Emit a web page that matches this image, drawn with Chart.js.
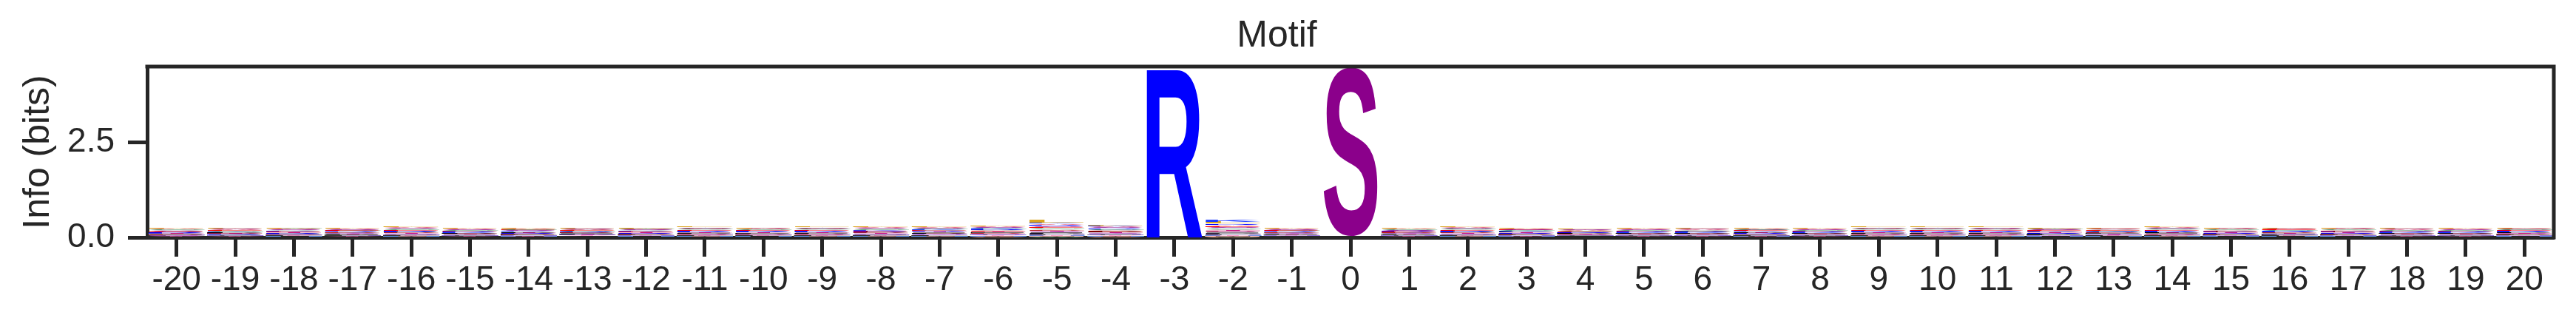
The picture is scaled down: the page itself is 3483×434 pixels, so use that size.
<!DOCTYPE html>
<html>
<head>
<meta charset="utf-8">
<title>Motif</title>
<script src="https://cdn.jsdelivr.net/npm/chart.js@4.4.1/dist/chart.umd.min.js"></script>
<style>
  html, body { margin: 0; padding: 0; background: #fff; }
  canvas { display: block; }
</style>
</head>
<body>
<canvas id="logoChart" width="3483" height="434"></canvas>
<script>
// ==========================================
// Motif logo, heights
// (values in millibits, one array per residue)
// ==========================================

const positions = [
    "-20","-19","-18","-17","-16","-15","-14","-13","-12","-11",
    "-10","-9","-8","-7","-6","-5","-4","-3","-2","-1",
    "0",
    "1","2","3","4","5","6","7","8","9","10",
    "11","12","13","14","15","16","17","18","19","20"
];

const yTicks = [0, 2.5];
const yMax = 4.5;

//            -20 .................................. -1   0   1 .................................. 20
const L = [24,23,22,21,26, 22,23,22,24,25, 22,24,26,27,28, 62,30,0,36,22, 0, 24,26,23,20,22, 23,22,22,25,24, 25,23,22,25,22, 23,23,22,22,23];
const A = [19,17,18,19,21, 18,19,17,18,20, 18,20,21,22,23, 30,24,0,30,18, 0, 18,21,19,16,18, 17,19,18,20,20, 19,18,19,20,18, 19,18,17,18,19];
const S = [16,18,17,18,19, 17,16,18,17,19, 18,19,20,20,22, 28,23,0,27,17, 4500, 17,20,17,16,17, 18,17,17,19,19, 20,17,18,19,18, 17,18,17,17,18];
const G = [17,16,18,16,18, 16,17,16,17,18, 17,18,18,19,20, 26,21,0,26,16, 0, 17,19,16,15,16, 16,17,16,18,18, 18,17,16,18,17, 16,17,16,16,17];
const E = [15,16,15,17,17, 15,16,16,15,17, 16,17,17,18,19, 26,20,0,27,16, 0, 15,18,16,14,15, 15,16,15,17,17, 17,16,16,17,16, 16,16,15,15,16];
const V = [16,15,16,15,18, 15,15,16,16,17, 15,17,18,18,19, 24,20,0,25,15, 0, 16,18,15,14,15, 16,15,15,17,17, 17,15,16,17,16, 15,16,15,15,15];
const K = [13,14,15,14,16, 14,15,14,15,16, 15,16,17,18,21, 34,25,0,38,14, 0, 14,17,15,13,14, 14,15,14,16,16, 16,15,15,16,15, 15,15,14,14,15];
const R = [14,13,14,15,16, 14,14,15,14,16, 15,16,16,17,19, 28,22,4500,34,15, 0, 15,17,14,13,14, 14,14,14,16,16, 16,14,15,16,14, 15,14,14,14,15];
const T = [13,13,14,13,15, 13,14,13,14,15, 14,15,15,16,17, 22,17,0,22,13, 0, 13,15,14,12,13, 13,14,13,15,15, 15,14,13,15,14, 14,14,13,13,14];
const D = [12,13,13,14,15, 13,13,14,13,14, 13,14,15,15,16, 22,17,0,21,14, 0, 14,15,13,12,13, 13,13,13,14,14, 14,14,14,14,13, 14,13,13,13,13];
const P = [14,13,14,13,15, 13,14,13,14,14, 13,14,15,15,16, 20,17,0,20,13, 0, 13,15,14,12,13, 13,14,13,14,14, 14,13,13,15,14, 13,14,13,13,14];
const I = [12,12,13,12,14, 12,12,13,12,14, 13,14,14,15,16, 20,16,0,20,12, 0, 12,14,12,11,12, 12,12,12,14,14, 14,12,13,14,12, 13,12,12,12,12];
const Q = [11,12,12,13,14, 12,13,12,13,13, 12,13,14,14,15, 20,16,0,20,13, 0, 13,14,13,11,12, 12,13,12,13,13, 13,13,12,13,13, 12,13,12,12,13];
const N = [11,11,12,11,13, 11,11,12,11,13, 12,13,13,14,14, 18,15,0,18,11, 0, 11,13,11,10,11, 11,11,11,13,13, 13,11,12,13,11, 12,11,11,11,11];
const F = [10,10,11,11,12, 10,11,10,11,12, 11,12,12,12,13, 16,13,0,16,10, 0, 10,12,11,9,10, 10,11,10,12,12, 12,11,11,12,11, 11,11,10,10,11];
const Y = [9,9,10,9,11, 9,10,10,10,11, 10,11,11,12,12, 15,12,0,14,10, 0, 9,11,10,8,9, 9,10,9,11,11, 11,10,10,11,10, 10,10,9,9,10];
const H = [8,8,9,8,10, 8,9,8,9,10, 9,10,10,11,11, 14,11,0,13,8, 0, 8,10,9,7,8, 8,9,8,10,10, 10,9,9,10,9, 9,9,8,8,9];
const M = [7,7,8,8,9, 7,7,8,8,9, 8,9,9,10,10, 12,10,0,12,8, 0, 8,9,7,7,7, 8,7,7,9,9, 9,8,8,9,8, 8,8,7,7,8];
const C = [6,6,7,6,8, 6,6,7,7,8, 7,8,8,8,9, 11,9,0,10,6, 0, 6,8,7,5,6, 6,6,6,8,8, 8,7,7,8,7, 7,7,6,6,7];
const W = [5,5,6,6,7, 5,6,5,6,7, 6,7,7,8,8, 10,8,0,9,5, 0, 5,7,6,4,5, 5,5,5,7,7, 7,6,6,7,6, 6,6,5,5,6];

const residues = { L, A, S, G, E, V, K, R, T, D, P, I, Q, N, F, Y, H, M, C, W };

const residueColors = {
    L: "#DAA520", A: "#DC143C", S: "#8B008B", G: "#2E8B57", E: "#FF0000",
    V: "#A9A9A9", K: "#1E3CFF", R: "#0000FF", T: "#C71585", D: "#B22222",
    P: "#000000", I: "#696969", Q: "#BA55D3", N: "#9370DB", F: "#333333",
    Y: "#FF69B4", H: "#6495ED", M: "#FFB6C1", C: "#FFA07A", W: "#3CB371"
};

const INK = "#262626";
const FONT = "'Liberation Sans', Arial, sans-serif";


// ============================
// Glyph drawing (logo letters)
// ============================
const glyphCache = {};
function glyphMetrics(ctx, ch) {
    if (!glyphCache[ch]) {
        ctx.save();
        ctx.font = "bold 400px " + FONT;
        const m = ctx.measureText(ch);
        ctx.restore();
        glyphCache[ch] = {
            left: m.actualBoundingBoxLeft,
            w: m.actualBoundingBoxLeft + m.actualBoundingBoxRight,
            asc: m.actualBoundingBoxAscent,
            h: m.actualBoundingBoxAscent + m.actualBoundingBoxDescent
        };
    }
    return glyphCache[ch];
}

function drawGlyph(ctx, ch, color, x0, yTop, w, h) {
    if (h <= 0) return;
    const g = glyphMetrics(ctx, ch);
    ctx.save();
    ctx.translate(x0, yTop);
    ctx.scale(w / g.w, h / g.h);
    ctx.font = "bold 400px " + FONT;
    ctx.textAlign = "left";
    ctx.textBaseline = "alphabetic";
    ctx.fillStyle = color;
    ctx.fillText(ch, g.left, g.asc);
    ctx.restore();
}

const logoPlugin = {
    id: "logoGlyphs",
    afterDatasetsDraw(chart) {
        const { ctx, chartArea, scales: { x, y } } = chart;
        const step = x.getPixelForValue(1) - x.getPixelForValue(0);
        const w = step * 0.95;

        ctx.save();
        ctx.beginPath();
        ctx.rect(chartArea.left, chartArea.top, chartArea.right - chartArea.left, chartArea.bottom - chartArea.top);
        ctx.clip();

        positions.forEach((p, i) => {
            // small on the bottom, big on top
            const stack = Object.keys(residues)
                .map(aa => [aa, residues[aa][i] / 1000])
                .filter(d => d[1] > 0)
                .sort((a, b) => a[1] - b[1]);

            let cum = 0;
            const xc = x.getPixelForValue(i);
            for (const [aa, v] of stack) {
                const yb = y.getPixelForValue(cum);
                const yt = y.getPixelForValue(cum + v);
                drawGlyph(ctx, aa, residueColors[aa], xc - w / 2, yt, w, yb - yt);
                cum += v;
            }
        });
        ctx.restore();
    },
    afterDraw(chart) {
        // top and right spines
        const { ctx, chartArea } = chart;
        ctx.save();
        ctx.strokeStyle = INK;
        ctx.lineWidth = 5;
        ctx.lineCap = "square";
        ctx.beginPath();
        ctx.moveTo(chartArea.left, chartArea.top);
        ctx.lineTo(chartArea.right, chartArea.top);
        ctx.lineTo(chartArea.right, chartArea.bottom);
        ctx.stroke();
        ctx.restore();
    }
};


// ============================
// Build chart
// ============================
const datasets = Object.keys(residues).map(aa => ({
    label: aa,
    data: residues[aa].map(v => v / 1000),
    backgroundColor: "rgba(0,0,0,0)",
    borderWidth: 0,
    stack: "logo"
}));

new Chart(document.getElementById("logoChart"), {
    type: "bar",
    data: { labels: positions, datasets },
    plugins: [logoPlugin],
    options: {
        responsive: false,
        animation: false,
        events: [],
        layout: { padding: { left: 0, right: 30, top: 0, bottom: 0 } },
        plugins: {
            legend: { display: false },
            tooltip: { enabled: false },
            title: {
                display: true,
                text: "Motif",
                color: INK,
                font: { family: FONT, size: 50, weight: "normal" },
                padding: { top: 19, bottom: 11 }
            }
        },
        scales: {
            x: {
                stacked: true,
                offset: true,
                grid: {
                    drawOnChartArea: false,
                    offset: false,
                    drawTicks: true,
                    tickLength: 26,
                    tickWidth: 5,
                    tickColor: INK
                },
                border: { display: true, color: INK, width: 5 },
                ticks: {
                    color: INK,
                    padding: 5,
                    autoSkip: false,
                    maxRotation: 0,
                    font: { family: FONT, size: 46 }
                },
                afterFit: s => { s.height = 113; }
            },
            y: {
                stacked: true,
                min: 0,
                max: yMax,
                afterBuildTicks: s => { s.ticks = yTicks.map(v => ({ value: v })); },
                grid: {
                    drawOnChartArea: false,
                    drawTicks: true,
                    tickLength: 26,
                    tickWidth: 5,
                    tickColor: INK
                },
                border: { display: true, color: INK, width: 5 },
                ticks: {
                    color: INK,
                    padding: 18,
                    font: { family: FONT, size: 46 },
                    callback: v => Number(v).toFixed(1)
                },
                title: {
                    display: true,
                    text: "Info (bits)",
                    color: INK,
                    font: { family: FONT, size: 50 },
                    padding: { top: 22, bottom: 0 }
                },
                afterFit: s => { s.width = 199; }
            }
        }
    }
});
</script>
</body>
</html>
